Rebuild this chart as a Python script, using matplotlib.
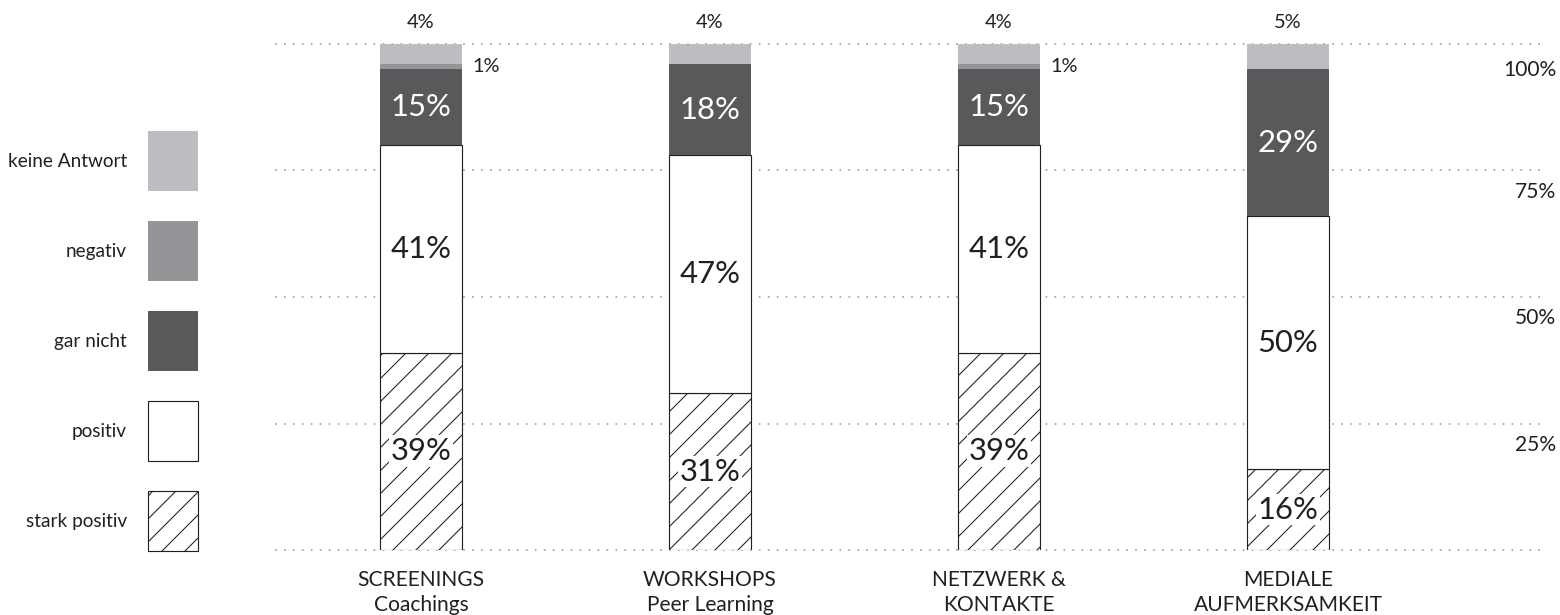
import numpy as np
import matplotlib.pyplot as plt
from matplotlib.patches import Rectangle

DPI = 138
W, H = 1560, 615


def px(size):
    # font size given in pixels -> points at this dpi
    return size * 72 / DPI


plt.rcParams['font.family'] = ['Lato', 'DejaVu Sans']
plt.rcParams['hatch.linewidth'] = 0.55

categories = ['SCREENINGS\nCoachings', 'WORKSHOPS\nPeer Learning',
              'NETZWERK &\nKONTAKTE', 'MEDIALE\nAUFMERKSAMKEIT']
series = ['stark positiv', 'positiv', 'gar nicht', 'negativ', 'keine Antwort']
stark_positiv = [39, 31, 39, 16]
positiv = [41, 47, 41, 50]
gar_nicht = [15, 18, 15, 29]
negativ = [1, 0, 1, 0]
keine_antwort = [4, 4, 4, 5]
grid_ticks = [0, 25, 50, 75, 100]
tick_labels = ['100%', '75%', '50%', '25%']

TEXT = '#231f20'
styles = {
    'stark positiv': dict(color='white', edgecolor='#231f20', hatch='//', linewidth=0.6),
    'positiv': dict(color='white', edgecolor='#231f20', linewidth=0.6),
    'gar nicht': dict(color='#58595b', linewidth=0),
    'negativ': dict(color='#939598', linewidth=0),
    'keine Antwort': dict(color='#bcbdc0', linewidth=0),
}

fig = plt.figure(figsize=(W / DPI, H / DPI), dpi=DPI)
ax = fig.add_axes([275 / W, (H - 550) / H, 1265 / W, 506 / H])

x = np.arange(len(categories))
width = 0.284
ax.set_xlim(-0.505, 3.872)
ax.set_ylim(0, 100)

for t in grid_ticks:
    ax.axhline(t, color='#9a9a9a', linewidth=0.85, linestyle=(0, (1, 4.5)), zorder=0, clip_on=False)

values = [stark_positiv, positiv, gar_nicht, negativ, keine_antwort]
bottom = np.zeros(len(categories))
for name, vals in zip(series, values):
    vals = np.array(vals, dtype=float)
    ax.bar(x, vals, width, bottom=bottom, zorder=2, **styles[name])
    for xi, b, v in zip(x, bottom, vals):
        if v == 0:
            continue
        if name in ('stark positiv', 'positiv', 'gar nicht'):
            col = 'white' if name == 'gar nicht' else TEXT
            bb = dict(facecolor='white', edgecolor='none', pad=1) if name == 'stark positiv' else None
            ax.text(xi, b + v / 2, f'{int(v)}%', ha='center', va='center',
                    fontsize=px(31), color=col, bbox=bb, zorder=3)
        elif name == 'negativ':
            ax.text(xi + width / 2 + 0.035, b + v / 2, f'{int(v)}%', ha='left', va='center',
                    fontsize=px(20), color=TEXT, zorder=3)
        else:
            ax.text(xi, 104.3, f'{int(v)}%', ha='center', va='center',
                    fontsize=px(20), color=TEXT, clip_on=False)
    bottom += vals

# right side percentage labels, a bit below each gridline
for t, lab in zip([100, 75, 50, 25], tick_labels):
    off = 5.1 if t == 100 else 4.2
    ax.text(3.928, t - off, lab, ha='right', va='center', fontsize=px(21), color=TEXT, clip_on=False)

for xi, cat in zip(x, categories):
    ax.text(xi, -4.0, cat, ha='center', va='top', fontsize=px(21), color=TEXT,
            linespacing=1.3, clip_on=False)

for s in ax.spines.values():
    s.set_visible(False)
ax.set_xticks([])
ax.set_yticks([])

# legend on the left
legend_order = ['keine Antwort', 'negativ', 'gar nicht', 'positiv', 'stark positiv']
for i, name in enumerate(legend_order):
    top = 131 + i * 90
    st = styles[name]
    r = Rectangle((148 / W, (H - top - 60) / H), 50 / W, 60 / H, transform=fig.transFigure,
                  facecolor=st['color'], edgecolor=st.get('edgecolor', st['color']),
                  hatch=st.get('hatch'), linewidth=st['linewidth'])
    fig.patches.append(r)
    fig.text(127 / W, (H - top - 30) / H, name, ha='right', va='center', fontsize=px(19), color=TEXT)

fig.savefig('out.png', dpi=DPI, facecolor='white')
